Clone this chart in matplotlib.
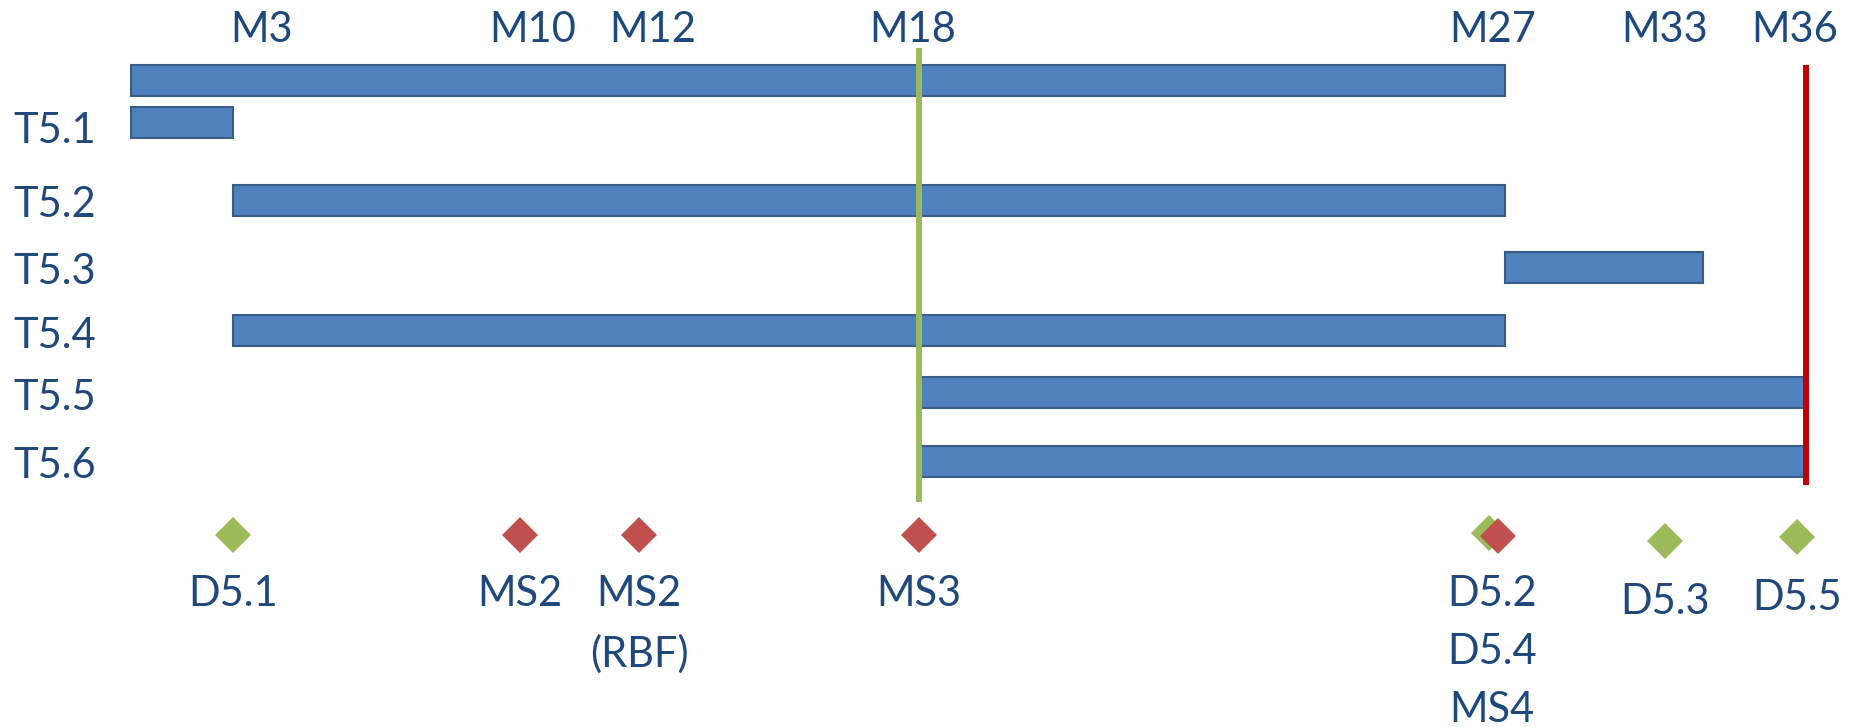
import numpy as np
import matplotlib.pyplot as plt

# WP5 timeline (project months)
header_months = [3, 10, 12, 18, 27, 33, 36]
header_labels = ['M3', 'M10', 'M12', 'M18', 'M27', 'M33', 'M36']

task_labels = ['', 'T5.1', 'T5.2', 'T5.3', 'T5.4', 'T5.5', 'T5.6']
task_start = [0, 0, 3, 27, 3, 18, 18]
task_end = [27, 3, 27, 33.8, 27, 36, 36]

deliv_months = [3, 26.75, 33, 35.8]     # deliverables (green)
mstone_months = [10, 12, 18, 26.9]      # milestones (red)

marker_labels = ['D5.1', 'MS2', 'MS2\n(RBF)', 'MS3', 'D5.2\nD5.4\nMS4', 'D5.3', 'D5.5']
marker_label_months = [3, 10, 12, 18, 26.8, 33, 35.8]

review_month = 18
end_month = 36

# --- layout (the original is a schematic, months are not evenly spaced) ---
W, H = 1853, 727
anchor_months = [0, 3, 10, 12, 18, 27, 33, 36]
anchor_px = [131, 233, 520, 639, 919, 1505, 1665, 1806]
row_y = [80.5, 122, 200, 267.5, 330.5, 392.5, 461.5]
row_label_drop = [0, 21, 17, 17, 17, 17, 17]
bar_h = 31
deliv_y = [535, 533, 541, 537]
mstone_y = [535, 535, 535, 536]
marker_label_top = [575, 575, 575, 575, 575, 583, 579]
header_nudge = [29, 13, 14, -6, -12, 0, -11]

blue = '#4F81BD'
blue_edge = '#385D8A'
green = '#9BBB59'
red = '#C0504D'
text_col = '#1F497D'

plt.rcParams['font.family'] = ['Lato', 'DejaVu Sans']


def fwd(m):
    return np.interp(m, anchor_months, anchor_px)


def inv(p):
    return np.interp(p, anchor_px, anchor_months)


fig = plt.figure(figsize=(W / 100, H / 100), dpi=100)
ax = fig.add_axes([anchor_px[0] / W, 0, (anchor_px[-1] - anchor_px[0]) / W, 1])
ax.set_xscale('function', functions=(fwd, inv))
ax.set_xlim(anchor_months[0], anchor_months[-1])
ax.set_ylim(H, 0)
ax.axis('off')

ax.barh(row_y, np.subtract(task_end, task_start), left=task_start, height=bar_h,
        color=blue, edgecolor=blue_edge, linewidth=1.5, clip_on=False, zorder=2)

ax.vlines(review_month, 48, 502, color=green, linewidth=4.3, zorder=3, clip_on=False)
ax.vlines(end_month, 65, 485, color='#C00000', linewidth=4.3, zorder=3, clip_on=False)

ax.plot(deliv_months, deliv_y, 'D', ms=18.5, color=green, ls='none',
        mew=0, clip_on=False, zorder=4)
ax.plot(mstone_months, mstone_y, 'D', ms=18.5, color=red, ls='none',
        mew=0, clip_on=False, zorder=5)

for m, lab, dx in zip(header_months, header_labels, header_nudge):
    ax.annotate(lab, (m, 42), xytext=(dx, 0), textcoords='offset pixels',
                ha='center', va='baseline', fontsize=30, color=text_col)

for y, lab, dy in zip(row_y, task_labels, row_label_drop):
    if lab:
        ax.annotate(lab, (0, y), xytext=(13 - anchor_px[0], -dy), textcoords='offset pixels',
                    ha='left', va='baseline', fontsize=30, color=text_col)

for m, lab, y in zip(marker_label_months, marker_labels, marker_label_top):
    ax.text(m, y, lab, ha='center', va='top', fontsize=30, color=text_col,
            linespacing=1.65)

fig.savefig('out.png', dpi=100)
